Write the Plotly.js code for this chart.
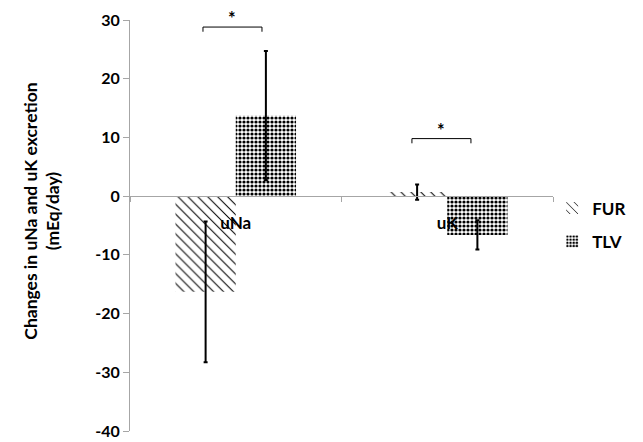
<!DOCTYPE html>
<html>
<head>
<meta charset="utf-8">
<script src="https://cdn.plot.ly/plotly-3.0.1.min.js"></script>
<style>html,body{margin:0;padding:0;background:#fff;}#chart{width:643px;height:442px;}</style>
</head>
<body>
<div id="chart"></div>
<script>
const categories = ['uNa', 'uK'];
const furValues = [-16.3, 0.7];
const furErrors = [12.0, 1.3];
const tlvValues = [13.7, -6.6];
const tlvErrors = [11.0, 2.5];
const seriesNames = ['FUR', 'TLV'];
const yTickValues = [-40, -30, -20, -10, 0, 10, 20, 30];
const yTickText = ['-40', '-30', '-20', '-10', '0', '10', '20', '30'];
const yTitle = 'Changes in uNa and uK excretion<br>(mEq/day)';
// significance brackets: [x start, x end, y level]
const bracketStart = [-0.155, 0.833];
const bracketEnd = [0.124, 1.112];
const bracketLevel = [28.8, 9.8];
const bracketLabel = ['*', '*'];

const FONT = 'Lato, "Open Sans", sans-serif';
const boldFont = (size) => ({family: FONT, size: size, color: '#000', weight: 700});

const furTrace = {
  type: 'bar', name: seriesNames[0], x: categories, y: furValues, legendgroup: 'a',
  marker: {color: 'white', line: {width: 0},
    pattern: {shape: '\\', size: 7, solidity: 0.15, fgcolor: '#000', bgcolor: '#fff', fillmode: 'replace'}},
  error_y: {type: 'data', array: furErrors, visible: true, color: '#000', thickness: 2, width: 2}
};
const tlvTrace = {
  type: 'bar', name: seriesNames[1], x: categories, y: tlvValues, legendgroup: 'b',
  marker: {color: 'white', line: {width: 0},
    pattern: {shape: '.', size: 4, solidity: 0.5, fgcolor: '#000', bgcolor: '#fff', fillmode: 'replace'}},
  error_y: {type: 'data', array: tlvErrors, visible: true, color: '#000', thickness: 2, width: 2}
};

const shapes = [];
const annotations = [];
for (let i = 0; i < bracketStart.length; i++) {
  const d = 0.8;
  shapes.push({type: 'path', xref: 'x', yref: 'y',
    path: `M ${bracketStart[i]},${bracketLevel[i] - d} L ${bracketStart[i]},${bracketLevel[i]} L ${bracketEnd[i]},${bracketLevel[i]} L ${bracketEnd[i]},${bracketLevel[i] - d}`,
    line: {color: '#000', width: 1}});
  annotations.push({xref: 'x', yref: 'y', x: (bracketStart[i] + bracketEnd[i]) / 2, y: bracketLevel[i],
    text: '<b>' + bracketLabel[i] + '</b>', showarrow: false, yanchor: 'bottom', yshift: -4,
    font: boldFont(18)});
}
// y-axis title as rotated annotation (centred like the reference)
annotations.push({xref: 'paper', yref: 'paper', x: -0.21, y: 0.534, xanchor: 'center', yanchor: 'middle',
  textangle: -90, text: yTitle, showarrow: false, font: boldFont(17.5)});

const layout = {
  width: 643, height: 442,
  margin: {l: 130, r: 90, t: 20, b: 11},
  paper_bgcolor: '#fff', plot_bgcolor: '#fff',
  barmode: 'group', bargap: 0.43, bargroupgap: 0,
  showlegend: true,
  legend: {x: 0.998, xanchor: 'left', y: 0.585, yanchor: 'top', traceorder: 'grouped', tracegroupgap: 8,
    font: boldFont(17), itemwidth: 30, bgcolor: 'rgba(0,0,0,0)'},
  xaxis: {type: 'category', range: [-0.5, 1.5], anchor: 'free', position: 4 / 7,
    showline: true, linecolor: '#a6a6a6', linewidth: 1,
    ticks: 'outside', tickson: 'boundaries', ticklen: 5, tickcolor: '#a6a6a6',
    ticklabelstandoff: 11, showgrid: false, zeroline: false,
    tickfont: boldFont(17)},
  yaxis: {range: [-40, 30], tickvals: yTickValues, ticktext: yTickText,
    showline: true, linecolor: '#a6a6a6', linewidth: 1,
    ticks: 'outside', ticklen: 6, tickcolor: '#a6a6a6', showgrid: false, zeroline: false,
    ticklabeloverflow: 'allow', tickfont: boldFont(16)},
  shapes: shapes, annotations: annotations
};

Plotly.newPlot('chart', [furTrace, tlvTrace], layout, {displayModeBar: false, staticPlot: true});
</script>
</body>
</html>
